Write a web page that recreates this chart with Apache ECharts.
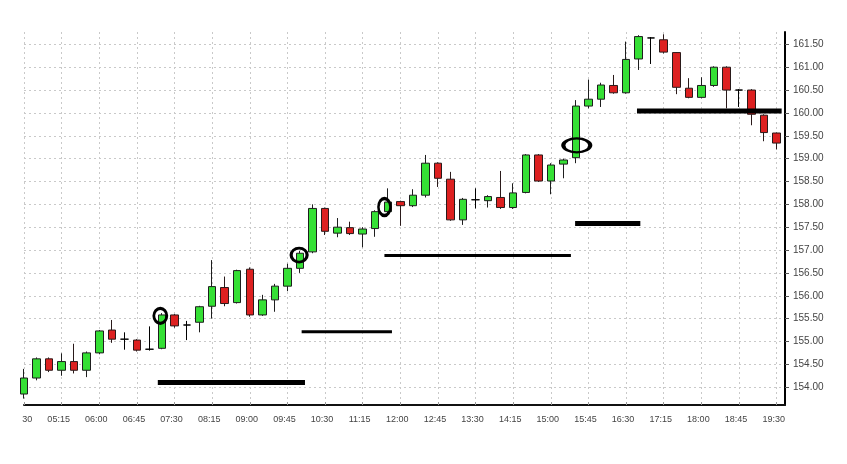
<!DOCTYPE html>
<html>
<head>
<meta charset="utf-8">
<script src="https://cdn.jsdelivr.net/npm/echarts@6/dist/echarts.min.js"></script>
<style>
html,body{margin:0;padding:0;background:#fff;}
#c{width:847px;height:464px;}
</style>
</head>
<body>
<div id="c"></div>
<script>
// ---- data ----
const times = ['04:30','04:45','05:00','05:15','05:30','05:45','06:00','06:15','06:30','06:45',
  '07:00','07:15','07:30','07:45','08:00','08:15','08:30','08:45','09:00','09:15',
  '09:30','09:45','10:00','10:15','10:30','10:45','11:00','11:15','11:30','11:45',
  '12:00','12:15','12:30','12:45','13:00','13:15','13:30','13:45','14:00','14:15',
  '14:30','14:45','15:00','15:15','15:30','15:45','16:00','16:15','16:30','16:45',
  '17:00','17:15','17:30','17:45','18:00','18:15','18:30','18:45','19:00','19:15','19:30'];
const opens = [153.85,154.2,154.62,154.37,154.56,154.37,154.75,155.25,155.05,155.03,
  154.83,154.85,155.58,155.36,155.42,155.77,156.18,155.85,156.58,155.58,
  155.91,156.21,156.6,156.96,157.91,157.37,157.49,157.35,157.47,157.84,
  158.06,157.97,158.2,158.9,158.55,157.66,158.1,158.08,158.15,157.93,
  158.26,159.08,158.51,158.88,159.02,160.15,160.3,160.6,160.44,161.18,
  161.64,161.6,161.32,160.54,160.34,160.6,161.0,160.5,160.5,159.95,159.56];
const closes = [154.2,154.62,154.37,154.56,154.37,154.75,155.23,155.05,155.05,154.81,
  154.83,155.58,155.34,155.36,155.76,156.2,155.83,156.55,155.58,155.91,
  156.21,156.6,156.93,157.91,157.41,157.5,157.36,157.46,157.84,158.05,
  157.97,158.2,158.9,158.57,157.66,158.11,158.1,158.17,157.93,158.25,
  159.08,158.51,158.86,158.97,160.15,160.3,160.61,160.44,161.17,161.67,
  161.64,161.33,160.56,160.34,160.6,161.0,160.5,160.5,159.97,159.57,159.34];
const lows = [153.75,154.15,154.33,154.25,154.3,154.22,154.72,154.97,154.82,154.78,
  154.8,154.83,155.3,155.03,155.2,155.5,155.77,155.83,155.54,155.56,
  155.65,156.1,156.5,156.93,157.33,157.28,157.33,157.06,157.29,157.8,
  157.53,157.94,158.15,158.38,157.64,157.55,157.91,157.93,157.9,157.9,
  158.24,158.49,158.22,158.57,158.9,160.1,160.13,160.42,160.42,160.94,
  161.07,161.3,160.41,160.32,160.32,160.57,160.1,160.13,159.73,159.38,159.2];
const highs = [154.4,154.65,154.65,154.74,154.95,154.78,155.25,155.47,155.2,155.05,
  155.33,155.62,155.6,155.45,155.78,156.78,156.42,156.57,156.62,156.02,
  156.26,156.7,156.98,158.0,157.93,157.7,157.62,157.5,157.87,158.35,
  158.08,158.33,159.08,158.92,158.71,158.14,158.35,158.2,158.73,158.46,
  159.1,159.1,158.9,159.0,160.28,160.73,160.66,160.83,161.56,161.7,
  161.66,161.72,161.33,160.76,160.78,161.02,161.02,160.52,160.52,159.97,159.57];
const timeTicks = ['04:30','05:15','06:00','06:45','07:30','08:15','09:00','09:45','10:30','11:15',
  '12:00','12:45','13:30','14:15','15:00','15:45','16:30','17:15','18:00','18:45','19:30'];
const priceTicks = [154.0,154.5,155.0,155.5,156.0,156.5,157.0,157.5,158.0,158.5,159.0,159.5,160.0,160.5,161.0,161.5];
// support / resistance levels drawn on the chart
const levelPrices = [154.1,155.21,156.88,157.58,160.04];
const levelStarts = ['07:10','10:02','11:41','15:29','16:43'];
const levelEnds   = ['10:06','11:50','15:24','16:47','19:36'];
// circled candles
const circleTimes  = ['07:13','09:59','11:41','15:31'];
const circlePrices = [155.56,156.89,157.94,159.29];

// ---- helpers / styles ----
const toMin = s => { const p = s.split(':'); return (+p[0]) * 60 + (+p[1]); };
const fmt = v => { const h = Math.floor(v / 60), m = Math.round(v % 60); return (h < 10 ? '0' : '') + h + ':' + (m < 10 ? '0' : '') + m; };
const levelWidths = [5,3,3,5,5];
const circleSizes = [[13,15],[16,14],[12,17],[27,14]];

const candleData = times.map((t, i) => [toMin(t), opens[i], closes[i], lows[i], highs[i]]);

const levelSeries = levelPrices.map((p, i) => ({
  type: 'line', symbol: 'none', silent: true, z: 5,
  lineStyle: { color: '#000', width: levelWidths[i], cap: 'butt' },
  data: [[toMin(levelStarts[i]), p], [toMin(levelEnds[i]), p]]
}));

const chart = echarts.init(document.getElementById('c'), null, { renderer: 'canvas' });
chart.setOption({
  animation: false,
  backgroundColor: '#fff',
  grid: { left: 24, right: 62, top: 32, bottom: 59, containLabel: false },
  xAxis: {
    type: 'value', min: 270, max: 1180,
    axisLine: { show: true, lineStyle: { color: '#111', width: 2 } },
    axisTick: { show: true, length: 3, inside: true, lineStyle: { color: '#999' }, customValues: timeTicks.map(toMin) },
    axisLabel: { customValues: timeTicks.map(toMin), formatter: v => fmt(v), color: '#444', fontSize: 9, margin: 10,
      fontFamily: 'Liberation Sans, Arial, sans-serif', padding: [0, 6, 0, 0] },
    splitLine: { show: true, lineStyle: { color: '#c9c9c9', type: [2, 3], width: 1 } }
  },
  yAxis: {
    type: 'value', position: 'right', min: 153.61, max: 161.77, scale: true,
    axisLine: { show: true, lineStyle: { color: '#000', width: 2 } },
    axisTick: { show: true, length: 4, lineStyle: { color: '#555' }, customValues: priceTicks },
    axisLabel: { customValues: priceTicks, formatter: v => v.toFixed(2), color: '#444', fontSize: 10, margin: 8,
      fontFamily: 'Liberation Sans, Arial, sans-serif' },
    splitLine: { show: true, lineStyle: { color: '#c9c9c9', type: [2, 3], width: 1 } }
  },
  series: [
    {
      type: 'candlestick', barWidth: 8, z: 3, clip: true,
      encode: { x: 0, y: [1, 2, 3, 4] },
      itemStyle: {
        color: '#35e035', color0: '#dd2020',
        borderColor: '#1e1e1e', borderColor0: '#2a1a1a', borderColorDoji: '#000', borderWidth: 1
      },
      data: candleData
    },
    ...levelSeries,
    {
      type: 'scatter', z: 6, silent: true,
      symbol: 'circle',
      itemStyle: { color: 'rgba(0,0,0,0)', borderColor: '#000', borderWidth: 3, opacity: 1 },
      data: circleTimes.map((t, i) => ({ value: [toMin(t), circlePrices[i]], symbolSize: circleSizes[i] }))
    }
  ],
  graphic: [{ type: 'rect', left: 0, top: 408, shape: { width: 22, height: 24 }, style: { fill: '#fff' }, z: 100 }]
});
</script>
</body>
</html>
